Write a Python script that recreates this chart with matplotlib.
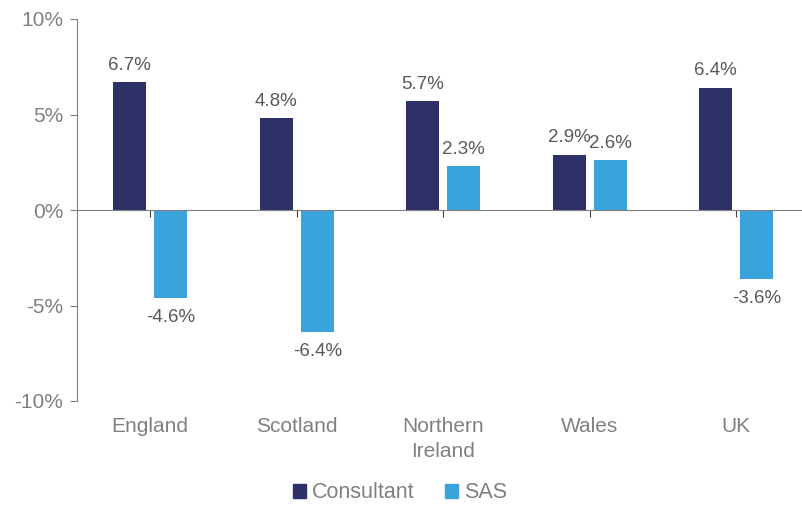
import numpy as np
import matplotlib.pyplot as plt
from matplotlib.patches import Patch

plt.rcParams['font.family'] = ['Liberation Sans', 'DejaVu Sans']

regions = ['England', 'Scotland', 'Northern\nIreland', 'Wales', 'UK']
consultant = [6.7, 4.8, 5.7, 2.9, 6.4]
sas = [-4.6, -6.4, 2.3, 2.6, -3.6]

navy = '#2E3168'
blue = '#3BA3DB'
dark_grey = '#595959'
grey = '#808080'
axis_grey = '#7f7f7f'

fig = plt.figure(figsize=(8.03, 5.09), dpi=100)
ax = fig.add_axes([77/803, 1-401/509, 1-77/803, 382/509])

x = np.arange(len(regions))
w = 0.225
off = 0.14
b1 = ax.bar(x - off, consultant, w, color=navy)
b2 = ax.bar(x + off, sas, w, color=blue)

for bars, vals in ((b1, consultant), (b2, sas)):
    for r, v in zip(bars, vals):
        cx = r.get_x() + r.get_width()/2
        if v >= 0:
            ax.annotate(f'{v:.1f}%', (cx, v), xytext=(0, 6), textcoords='offset points',
                        ha='center', va='bottom', fontsize=13.5, color=dark_grey)
        else:
            ax.annotate(f'{v:.1f}%', (cx, v), xytext=(0, -8), textcoords='offset points',
                        ha='center', va='top', fontsize=13.5, color=dark_grey)

ax.set_ylim(-10, 10)
ax.set_yticks([-10, -5, 0, 5, 10])
ax.set_yticklabels(['-10%', '-5%', '0%', '5%', '10%'])
ax.set_xlim(-0.5, 4.456)
ax.set_xticks(x)
ax.set_xticklabels([])

for s in ['top', 'right']:
    ax.spines[s].set_visible(False)
ax.spines['bottom'].set_position(('data', 0))
ax.spines['bottom'].set_color(axis_grey)
ax.spines['left'].set_color(axis_grey)
ax.tick_params(axis='y', colors=axis_grey, labelcolor=grey, labelsize=15, length=5, pad=5)
ax.tick_params(axis='x', colors='#404040', length=5, direction='out')

for xi, name in zip(x, regions):
    ax.text(xi, -10.85, name, ha='center', va='top',
            fontsize=15, color=grey, linespacing=1.4, clip_on=False)

handles = [Patch(color=navy, label='Consultant'), Patch(color=blue, label='SAS')]
fig.legend(handles=handles, loc='center', bbox_to_anchor=(400/803, 1-493/509), ncol=2,
           frameon=False, fontsize=15.5, labelcolor=grey, handlelength=0.6, handleheight=0.6,
           handletextpad=0.3, columnspacing=1.4)

fig.savefig('out.png', dpi=100)
